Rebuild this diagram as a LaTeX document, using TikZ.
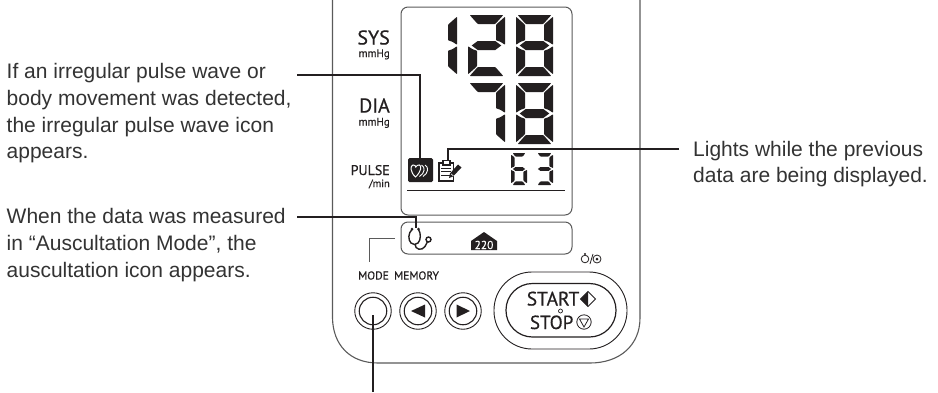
\documentclass[tikz,border=0pt]{standalone}
\usepackage{fontspec}
\setmainfont{Liberation Sans}
\newfontfamily\din[RawFeature={embolden=0.5}]{PT Sans}
\definecolor{ink}{HTML}{231F20}
\definecolor{body}{HTML}{5A5A5A}
\definecolor{txt}{HTML}{333333}
\usetikzlibrary{calc}
\tikzset{
  note/.style={anchor=base west,inner sep=0pt,text=txt,font=\fontsize{21}{21}\selectfont},
  lead/.style={draw=ink,line width=2pt},
  thin line/.style={draw=body,line width=1pt},
  lcd/.style={draw=body,line width=1pt,rounded corners=7pt},
  lab/.style={inner sep=0pt,text=ink,font=\din},
  ring/.style={draw=ink,line width=0.9pt,fill=white},
}
% seven-segment digit: x,y,w,h,t,segments
\newcommand{\dgt}[6]{%
 \begin{scope}[shift={(#1,#2)},ink]
 \pgfmathsetmacro{\W}{#3}\pgfmathsetmacro{\H}{#4}\pgfmathsetmacro{\T}{#5}
 \pgfmathsetmacro{\M}{\H/2}\pgfmathsetmacro{\G}{0.7}
 \foreach \s in {#6}{%
  \ifcase\s\relax
  \fill[rounded corners=0.7pt] (\G+1,0)--(\W-\G-1,0)--(\W-\T-\G,\T)--(\T+\G,\T)--cycle;%0 top
  \or\fill[rounded corners=0.7pt] (\W,\G+1)--(\W,\M-\G)--(\W-\T/2,\M-\G-\T/3)--(\W-\T,\M-\G-\T/2)--(\W-\T,\T+\G)--cycle;%1 UR
  \or\fill[rounded corners=0.7pt] (\W,\H-\G-1)--(\W,\M+\G)--(\W-\T/2,\M+\G+\T/3)--(\W-\T,\M+\G+\T/2)--(\W-\T,\H-\T-\G)--cycle;%2 LR
  \or\fill[rounded corners=0.7pt] (\G+1,\H)--(\W-\G-1,\H)--(\W-\T-\G,\H-\T)--(\T+\G,\H-\T)--cycle;%3 bottom
  \or\fill[rounded corners=0.7pt] (0,\H-\G-1)--(0,\M+\G)--(\T/2,\M+\G+\T/3)--(\T,\M+\G+\T/2)--(\T,\H-\T-\G)--cycle;%4 LL
  \or\fill[rounded corners=0.7pt] (0,\G+1)--(0,\M-\G)--(\T/2,\M-\G-\T/3)--(\T,\M-\G-\T/2)--(\T,\T+\G)--cycle;%5 UL
  \or\fill (\G+\T/3,\M)--(\T+\G,\M-\T/2)--(\W-\T-\G,\M-\T/2)--(\W-\G-\T/3,\M)--(\W-\T-\G,\M+\T/2)--(\T+\G,\M+\T/2)--cycle;%6 mid
  \fi}
 \end{scope}}
\begin{document}
\begin{tikzpicture}[x=1pt,y=-1pt]
\useasboundingbox[fill=white] (0,0) rectangle (938,392);
% body outline
\coordinate (bl) at (332.5,0);
\coordinate (br) at (640,0);
\draw[draw=body,line width=1.1pt] (bl) -- (332.5,318) .. controls (333,345) and (350,363) .. (378,363) -- (590,363) .. controls (620,363) and (640,345) .. (640,318) -- (br);
% LCDs
\draw[lcd] (401,7) rectangle (572,215);
\draw[lcd] (401,222) rectangle (572,254);
% labels
\node[lab,anchor=base east,font=\din\fontsize{20}{20}\selectfont] (sys) at (390,44.5) {SYS};
\node[lab,anchor=base east,font=\din\fontsize{11}{11}\selectfont] (sysu) at (390,57) {mmHg};
\node[lab,anchor=base east,font=\din\fontsize{20}{20}\selectfont] (dia) at (390,112.5) {DIA};
\node[lab,anchor=base east,font=\din\fontsize{11}{11}\selectfont] (diau) at (390,125.5) {mmHg};
\node[lab,anchor=base east,font=\din\fontsize{14}{14}\selectfont] (pulse) at (390,175) {PULSE};
\node[lab,anchor=base east,font=\din\fontsize{10.5}{10.5}\selectfont] (pmin) at (390,187) {/min};
% digits
\dgt{420}{15}{37}{61}{9}{1,2}
\dgt{468}{15}{37}{61}{9}{0,1,6,4,3}
\dgt{516}{15}{37}{61}{9}{0,1,2,3,4,5,6}
\dgt{468}{83}{37}{61}{9}{0,1,2}
\dgt{516}{83}{37}{61}{9}{0,1,2,3,4,5,6}
\dgt{511}{153}{16}{32}{3.6}{0,2,3,4,5,6}
\dgt{536}{153}{17}{32}{3.6}{0,1,2,3,6}
% pulse underline
\coordinate (ulA) at (407,190.5);
\coordinate (ulB) at (565,190.5);
\draw[draw=ink,line width=1pt] (ulA) -- (ulB);
% irregular pulse icon
\node[fill=ink,inner sep=0pt,minimum width=25pt,minimum height=24pt,rounded corners=1.5pt] (ipw) at (420.5,170) {};
\draw[white,line width=1pt] (415.5,177) .. controls (410,172) and (410,165.5) .. (413,165) .. controls (415,164.8) and (415.5,166) .. (415.8,167) .. controls (416.5,165.5) and (418,164.8) .. (419.5,165) .. controls (422,166) and (421,172) .. (415.5,177) -- cycle;
\draw[white,line width=0.9pt] (421.5,165) .. controls (425.5,167) and (425,173) .. (419.5,176.5);
\draw[white,line width=0.9pt] (425,165) .. controls (429,167) and (428.5,173) .. (423,176.5);
% memo icon
\coordinate (memo) at (447.5,160);
\begin{scope}[ink]
\draw[line width=1.2pt,fill=white] (439,163) rectangle (453.5,181);
\draw[line width=1.2pt,fill=white] (443,160.5) rectangle (450,165);
\foreach \yy in {168,171.5,175}{\draw[line width=1pt] (441,\yy) -- (451,\yy);}
\fill (449,178) -- (450,173.5) -- (458,164.5) -- (461.5,167.5) -- (453,176.5) -- cycle;
\draw[white,line width=0.6pt] (451,173.8) -- (453.5,176);
\end{scope}
% stethoscope
\begin{scope}[ink,line width=1.4pt]
\draw (412,229.5) .. controls (408,233) and (408,240) .. (411,243) .. controls (413,245) and (416,245) .. (418,243) .. controls (421,240) and (421,233) .. (418.5,229.5);
\fill (412,229) circle (1.5pt) (418.5,229) circle (1.5pt);
\draw (415,244) .. controls (415,250) and (422,251) .. (425,246.5) .. controls (426.5,244) and (427,242.5) .. (427.5,241.5);
\draw[fill=white] (428.5,239.5) circle (2.5pt);
\end{scope}
% altitude icon
\fill[ink] (471,241) -- (484,232) -- (497,241) -- (497,250) -- (471,250) -- cycle;
\node[inner sep=0pt,text=white,font=\din\fontsize{11.5}{11.5}\selectfont] (alt) at (484,245) {220};
% mode bracket
\coordinate (mA) at (395,238);
\coordinate (mB) at (369,238);
\coordinate (mC) at (369,262);
\draw[thin line,line width=0.9pt] (mA) -- (mB) -- (mC);
% power icon
\begin{scope}[ink,line width=0.8pt]
\draw (585,259) circle (3.8pt);
\fill (585,254) circle (1.1pt);
\draw (590,264) -- (593,254);
\draw (597,259) circle (4pt);
\fill (597,259) circle (1.5pt);
\end{scope}
% buttons
\node[lab,font=\din\fontsize{11.5}{11.5}\selectfont] (mode) at (373.5,275.5) {MODE};
\node[lab,font=\din\fontsize{11.5}{11.5}\selectfont] (memory) at (416.5,275.5) {MEMORY};
\foreach \nm/\cx in {b1/373,b2/418,b3/463}{
  \node[circle,ring,minimum size=36.5pt,inner sep=0pt] (\nm) at (\cx,311) {};
  \node[circle,ring,minimum size=27.5pt,inner sep=0pt,line width=1.1pt] (\nm i) at (\cx,311) {};
}
\fill[ink] (425,304.5) -- (425,317.5) -- (411,311) -- cycle;
\fill[ink] (456.5,304.5) -- (456.5,317.5) -- (470,311) -- cycle;
\draw[ink,line width=0.9pt,rounded corners=38pt] (494,272) rectangle (627,349);
\draw[ink,line width=1.2pt,rounded corners=26.5pt] (506,283.5) rectangle (616,337);
\node[lab,anchor=base east,font=\din\fontsize{19.5}{19.5}\selectfont] (start) at (579.5,305.5) {START};
\node[lab,anchor=base east,font=\din\fontsize{19}{19}\selectfont] (stop) at (573.5,329) {STOP};
\draw[ink,line width=0.7pt] (560.5,311) circle (2pt);
\draw[ink,line width=0.8pt] (588,291.5) -- (595.5,299) -- (588,306.5) -- (580.5,299) -- cycle;
\fill[ink] (588,291.5) -- (588,306.5) -- (580.5,299) -- cycle;
\draw[ink,line width=0.8pt] (584,322) circle (7.2pt);
\draw[ink,line width=0.8pt] (579.5,319) -- (588.5,319) -- (584,327) -- cycle;
% notes
\node[note] (n1a) at (6.5,78.5) {If an irregular pulse wave or};
\node[note] (n1b) at (6.5,105) {body movement was detected,};
\node[note] (n1c) at (6.5,132) {the irregular pulse wave icon};
\node[note] (n1d) at (6.5,158) {appears.};
\node[note] (n2a) at (6.5,223.5) {When the data was measured};
\node[note] (n2b) at (6.5,250) {in “Auscultation Mode”, the};
\node[note] (n2c) at (6.5,277) {auscultation icon appears.};
\node[note] (n3a) at (693,156) {Lights while the previous};
\node[note] (n3b) at (693,182.5) {data are being displayed.};
% leaders
\coordinate (l1a) at (297,75);
\coordinate (l1b) at (420,75);
\coordinate (l1c) at (420,163);
\draw[lead] (l1a) -- (l1b) -- (l1c);
\coordinate (l2a) at (679,149);
\draw[lead] (l2a) -| (memo);
\coordinate (l3a) at (297,217);
\coordinate (l3b) at (416,217);
\coordinate (l3c) at (416,228);
\draw[lead] (l3a) -- (l3b) -- (l3c);
\coordinate (l4a) at (373,392);
\coordinate (l4b) at (373,315);
\draw[lead] (l4a) -- (l4b);
\end{tikzpicture}
\end{document}
